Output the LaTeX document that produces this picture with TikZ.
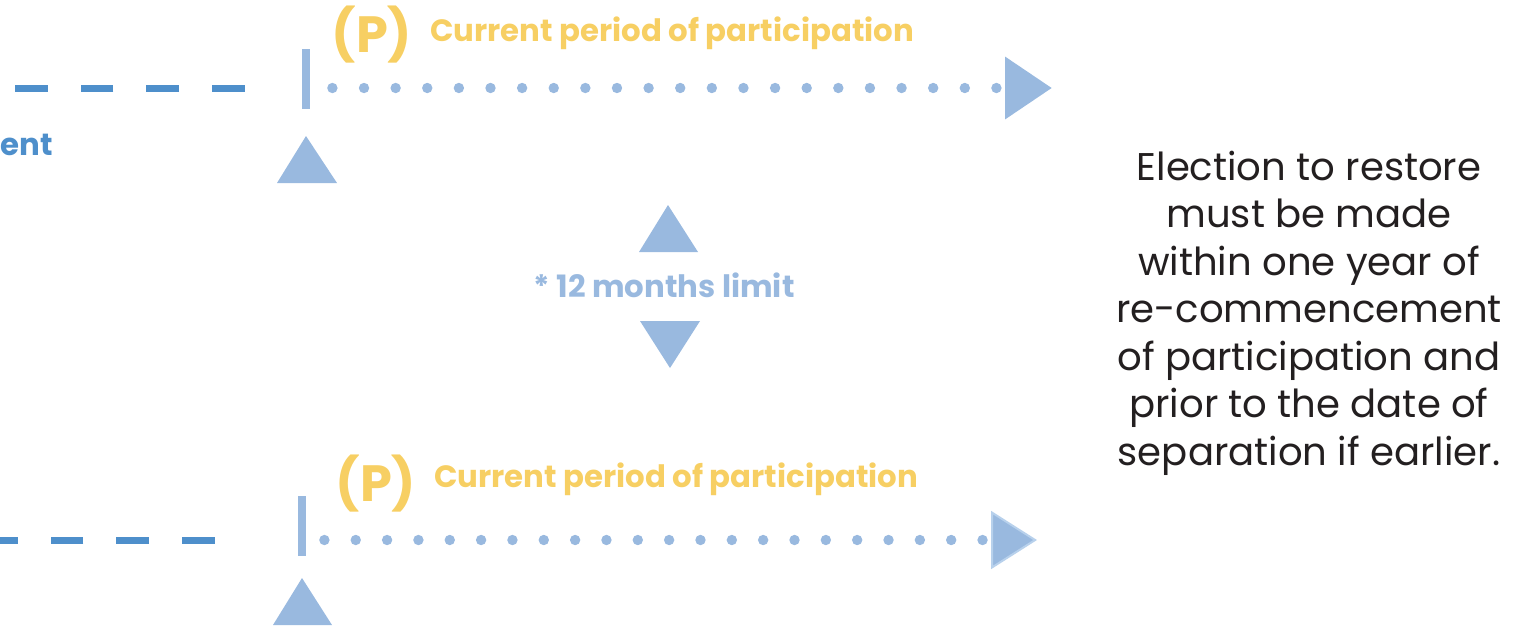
\documentclass[tikz,border=0pt]{standalone}
\usepackage{fontspec}
\setmainfont{Poppins}
\usetikzlibrary{arrows.meta}
\definecolor{paleblue}{HTML}{99B9DF}
\definecolor{rimblue}{HTML}{B8D1EC}
\definecolor{deepblue}{HTML}{4E8FCB}
\definecolor{gold}{HTML}{F7CF63}
\definecolor{ink}{HTML}{231F20}
\begin{document}
\begin{tikzpicture}[x=0.5pt,y=-0.5pt,
    pastline/.style={deepblue,line width=3.5pt,dash pattern=on 16.4pt off 16.4pt},
    dotline/.style={paleblue,line width=5.2pt,line cap=round},
    bar/.style={fill=paleblue,minimum width=4pt,minimum height=30pt,inner sep=0pt},
    plabel/.style={gold,font=\fontsize{25.5pt}{25.5pt}\selectfont\bfseries,inner sep=0pt,anchor=base},
    period/.style={gold,font=\fontsize{15.4pt}{15.4pt}\selectfont\bfseries,inner sep=0pt,anchor=base}]
    \useasboundingbox (0,0) rectangle (1519,628);
    \clip (0,0) rectangle (1519,628);
    % first timeline
    \coordinate (startT) at (-60,88);
    \coordinate (endT) at (1052,88);
    \node[bar] (barT) at (306,79) {};
    \draw[pastline,shorten <=28.5pt] (barT.west |- startT) -- (startT);
    \draw[dotline,dash pattern=on 0pt off 15.81pt,shorten <=11pt,-{Triangle[width=30pt,length=23.5pt]}] (barT.east |- endT) -- (endT);
    \fill[paleblue] (277,183) -- (306,136) -- (337,183) -- cycle;
    \node[plabel] (pT) at (372,52) {(P)};
    \node[period] (curT) at (672,41) {Current period of participation};
    \node[period,deepblue,anchor=base east] (prevT) at (53,155) {ent};
    % twelve month gap
    \fill[paleblue] (639,252) -- (668,205) -- (698,252) -- cycle;
    \node[period,paleblue] (limit) at (664,297) {* 12 months limit};
    \fill[paleblue] (640,321) -- (700,321) -- (670,368) -- cycle;
    % second timeline
    \coordinate (startB) at (-60,540);
    \coordinate (endB) at (1037,540);
    \node[bar] (barB) at (302,526) {};
    \draw[pastline,shorten <=41.5pt] (barB.west |- startB) -- (startB);
    \draw[dotline,dash pattern=on 0pt off 15.67pt,shorten <=9pt,-{Triangle[width=29pt,length=23pt,fill=paleblue,color=rimblue,line width=1pt]}] (barB.east |- endB) -- (endB);
    \fill[paleblue] (273,625) -- (302,578) -- (332,625) -- cycle;
    \node[plabel] (pB) at (376,501) {(P)};
    \node[period] (curB) at (676,487) {Current period of participation};
    % note
    \node[ink,font=\fontsize{19.3pt}{23.75pt}\selectfont,align=center,anchor=base,inner sep=0pt] (rule) at (1309,465)
        {Election to restore\\must be made\\within one year of\\re-commencement\\of participation and\\prior to the date of\\separation if earlier.};
\end{tikzpicture}
\end{document}
